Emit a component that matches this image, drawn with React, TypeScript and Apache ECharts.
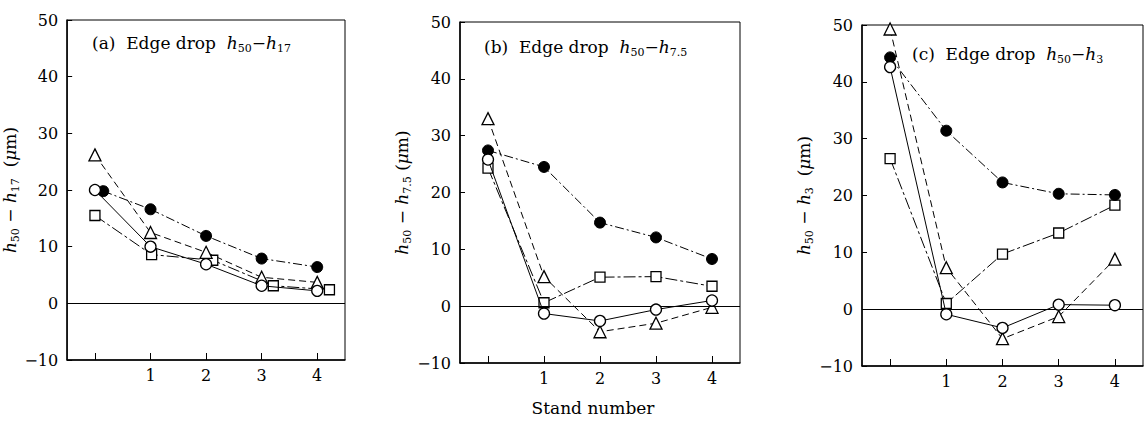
import React, { useEffect, useRef } from "react";
import * as echarts from "echarts";

// Stand positions (x axis)
const standTicks = [0, 1, 2, 3, 4];
const standLabels = [1, 2, 3, 4];
const yMin = -10;
const yMax = 50;
const yStep = 10;

// Panel (a): h50 - h17
const aFilledX = [0.15, 1, 2, 3, 4];
const aFilledY = [19.8, 16.6, 11.9, 7.9, 6.4];
const aTriX = [0, 1, 2, 3, 4];
const aTriY = [26.2, 12.5, 9.0, 4.6, 3.7];
const aOpenX = [0, 1, 2, 3, 4];
const aOpenY = [20.0, 10.0, 6.9, 3.1, 2.2];
const aSquareX = [0, 1.02, 2.12, 3.21, 4.22];
const aSquareY = [15.5, 8.6, 7.6, 3.1, 2.4];

// Panel (b): h50 - h7.5
const bFilledX = [0, 1, 2, 3, 4];
const bFilledY = [27.4, 24.5, 14.7, 12.1, 8.3];
const bTriX = [0, 1, 2, 3, 4];
const bTriY = [33.0, 5.2, -4.5, -3.0, -0.2];
const bOpenX = [0, 1, 2, 3, 4];
const bOpenY = [25.8, -1.3, -2.6, -0.6, 1.0];
const bSquareX = [0, 1, 2, 3, 4];
const bSquareY = [24.3, 0.6, 5.1, 5.2, 3.5];

// Panel (c): h50 - h3
const cFilledX = [0, 1, 2, 3, 4];
const cFilledY = [44.3, 31.4, 22.3, 20.3, 20.1];
const cTriX = [0, 1, 2, 3, 4];
const cTriY = [49.3, 7.3, -5.2, -1.3, 8.8];
const cOpenX = [0, 1, 2, 3, 4];
const cOpenY = [42.6, -0.9, -3.3, 0.8, 0.7];
const cSquareX = [0, 1, 2, 3, 4];
const cSquareY = [26.5, 1.0, 9.7, 13.4, 18.3];

const SERIF = "'DejaVu Serif', 'Liberation Serif', serif";

const rich = {
  t: { fontFamily: SERIF, fontSize: 17, fontWeight: "normal", color: "#000", lineHeight: 22 },
  i: { fontFamily: SERIF, fontSize: 17, fontWeight: "normal", fontStyle: "italic", color: "#000", lineHeight: 22 },
  s: { fontFamily: SERIF, fontSize: 11, fontWeight: "normal", color: "#000", lineHeight: 12, verticalAlign: "bottom" },
};

const grids = [
  { left: 66, top: 20, width: 279, height: 340 },
  { left: 460, top: 22, width: 280, height: 341 },
  { left: 862, top: 25, width: 281, height: 341 },
];

type Kind = "filled" | "open" | "tri" | "sq";

function makeSeries(gridIdx: number, xs: number[], ys: number[], kind: Kind, withZero = false) {
  const base: any = {
    type: "line",
    xAxisIndex: gridIdx,
    yAxisIndex: gridIdx,
    data: xs.map((x, k) => [x, ys[k]]),
    symbolSize: 11,
    lineStyle: { color: "#000", width: 1 },
    itemStyle: { color: "#fff", borderColor: "#000", borderWidth: 1.3 },
    z: 3,
  };
  if (kind === "filled") {
    base.symbol = "circle";
    base.itemStyle = { color: "#000", borderColor: "#000", borderWidth: 1 };
    base.lineStyle.type = [9, 3, 2, 3];
    base.z = 4;
  } else if (kind === "open") {
    base.symbol = "circle";
    base.lineStyle.type = "solid";
    base.z = 5;
  } else if (kind === "tri") {
    base.symbol = "triangle";
    base.symbolSize = 12;
    base.lineStyle.type = [7, 4];
  } else {
    base.symbol = "rect";
    base.symbolSize = 10;
    base.lineStyle.type = [12, 3, 3, 3];
  }
  if (withZero) {
    base.markLine = {
      silent: true,
      symbol: ["none", "none"],
      label: { show: false },
      lineStyle: { color: "#000", width: 1, type: "solid" },
      data: [{ yAxis: 0 }],
    };
  }
  return base;
}

const titleTexts = [
  "{t|(a)  Edge drop  }{i|h}{s|50}{t|−}{i|h}{s|17}",
  "{t|(b)  Edge drop  }{i|h}{s|50}{t|−}{i|h}{s|7.5}",
  "{t|(c)  Edge drop  }{i|h}{s|50}{t|−}{i|h}{s|3}",
];
const titlePos = [
  { left: 92, top: 32 },
  { left: 484, top: 36 },
  { left: 912, top: 43 },
];
const yNames = [
  "{i|h}{s|50}{t| − }{i|h}{s|17}{t|  (}{i|μ}{t|m)}",
  "{i|h}{s|50}{t| − }{i|h}{s|7.5}{t| (}{i|μ}{t|m)}",
  "{i|h}{s|50}{t| − }{i|h}{s|3}{t|  (}{i|μ}{t|m)}",
];

export default function App() {
  const ref = useRef<HTMLDivElement>(null);
  useEffect(() => {
    if (!ref.current) return;
    const chart = echarts.init(ref.current, undefined, { renderer: "svg" });
    const xAxes = grids.map((_, i) => ({
      type: "value",
      gridIndex: i,
      min: -0.5,
      max: 4.5,
      axisLine: { show: true, onZero: false, lineStyle: { color: "#000", width: 1.5 } },
      axisTick: { show: true, inside: true, length: 7, customValues: standTicks, lineStyle: { color: "#000", width: 1 } },
      axisLabel: { customValues: standLabels, color: "#000", fontFamily: SERIF, fontSize: 16, margin: 7 },
      splitLine: { show: false },
    }));
    const yAxes = grids.map((_, i) => ({
      type: "value",
      gridIndex: i,
      min: yMin,
      max: yMax,
      interval: yStep,
      axisLine: { show: true, onZero: false, lineStyle: { color: "#000", width: 1.5 } },
      axisTick: { show: true, inside: true, length: 5, lineStyle: { color: "#000", width: 1 } },
      axisLabel: {
        color: "#000",
        fontFamily: SERIF,
        fontSize: 16,
        margin: 9,
        formatter: (v: number) => String(v).replace("-", "−"),
      },
      splitLine: { show: false },
      name: yNames[i],
      nameLocation: "middle",
      nameRotate: 90,
      nameGap: 38,
      nameTextStyle: { rich, fontWeight: "normal" },
    }));
    const series = [
      makeSeries(0, aSquareX, aSquareY, "sq", true),
      makeSeries(0, aTriX, aTriY, "tri"),
      makeSeries(0, aFilledX, aFilledY, "filled"),
      makeSeries(0, aOpenX, aOpenY, "open"),
      makeSeries(1, bSquareX, bSquareY, "sq", true),
      makeSeries(1, bTriX, bTriY, "tri"),
      makeSeries(1, bFilledX, bFilledY, "filled"),
      makeSeries(1, bOpenX, bOpenY, "open"),
      makeSeries(2, cSquareX, cSquareY, "sq", true),
      makeSeries(2, cTriX, cTriY, "tri"),
      makeSeries(2, cFilledX, cFilledY, "filled"),
      makeSeries(2, cOpenX, cOpenY, "open"),
    ];
    chart.setOption({
      animation: false,
      backgroundColor: "#fff",
      grid: grids.map((g) => ({ ...g, show: true, borderColor: "#000", borderWidth: 1, backgroundColor: "transparent" })),
      title: titleTexts.map((t, i) => ({
        text: t,
        left: titlePos[i].left,
        top: titlePos[i].top,
        padding: 0,
        textStyle: { rich, fontWeight: "normal", fontFamily: SERIF, fontSize: 17, color: "#000" },
      })),
      xAxis: xAxes,
      yAxis: yAxes,
      series,
      graphic: [
        {
          type: "text",
          x: 593,
          y: 408,
          style: {
            text: "Stand number",
            fontFamily: SERIF,
            fontSize: 17,
            fill: "#000",
            textAlign: "center",
            textVerticalAlign: "middle",
          },
        },
      ],
    });
    return () => chart.dispose();
  }, []);
  return (
    <div
      ref={ref}
      style={{ position: "fixed", left: 0, top: 0, width: 1147, height: 423, background: "#fff" }}
    />
  );
}
